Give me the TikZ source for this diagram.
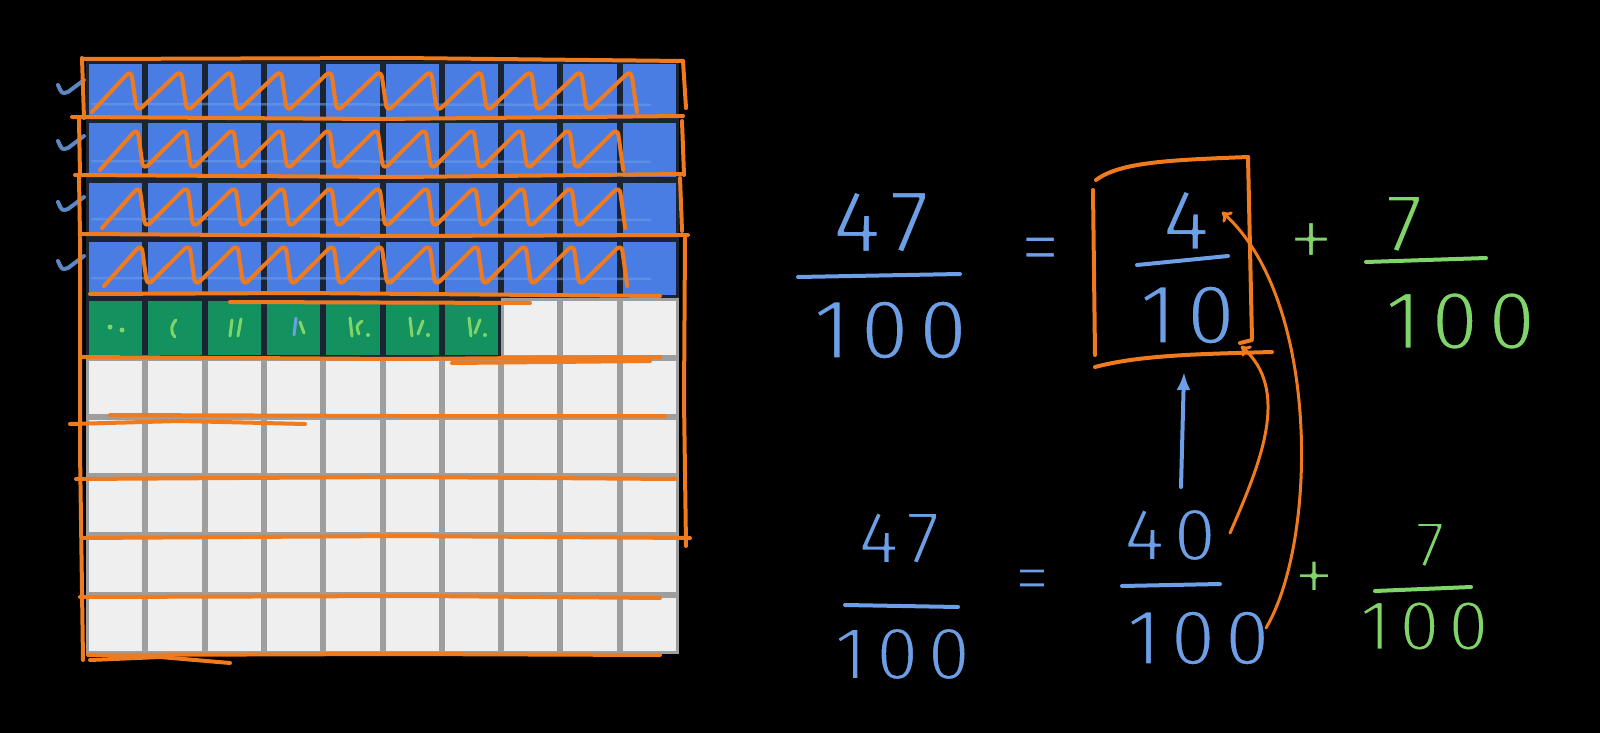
\documentclass[tikz,border=0pt]{standalone}
\usepackage{fontspec}
\newfontfamily\hw{Fira Sans}[LetterSpace=12]
\newcommand\thn[2][2.6]{\special{pdf:literal direct 2 Tr #1 w 1 j 0 0 0 RG}#2\special{pdf:literal direct 0 Tr}}
\usetikzlibrary{arrows.meta}
\definecolor{orng}{HTML}{F07A1E}
\definecolor{hblue}{HTML}{6C9FE6}
\definecolor{hgreen}{HTML}{7FD46A}
\definecolor{cblue}{HTML}{4A7DE4}
\definecolor{cgreen}{HTML}{13915E}
\definecolor{cwhite}{HTML}{EFEFEF}
\definecolor{lgray}{HTML}{9E9E9E}
\definecolor{dline}{HTML}{1B2433}
\tikzset{
  ostroke/.style={draw=orng, line width=4pt, line cap=round, line join=round},
  bstroke/.style={draw=hblue, line width=4pt, line cap=round, line join=round},
  gstroke/.style={draw=hgreen, line width=4pt, line cap=round, line join=round},
  num/.style={inner sep=0pt, font=\hw\fontsize{#1}{#1}\selectfont},
}
\begin{document}
\begin{tikzpicture}[x=1pt,y=-1pt]
\useasboundingbox (0,0) rectangle (1600,733);
\fill[black] (0,0) rectangle (1600,733);
% ---------- grid ----------
\def\c{59.3}
\fill[lgray] (86,61) rectangle (679,654);
\fill[dline] (86,61) rectangle (679,{61+4*\c});
\fill[dline] (86,{61+4*\c}) rectangle ({86+7*\c},{61+5*\c});
\foreach \j in {0,...,3}{\foreach \i in {0,...,9}{
  \fill[cblue] ({86+\i*\c+3},{61+\j*\c+3}) rectangle ({86+(\i+1)*\c-3},{61+(\j+1)*\c-3});}}
\foreach \i in {0,...,6}{
  \fill[cgreen] ({86+\i*\c+3},{61+4*\c+3}) rectangle ({86+(\i+1)*\c-3},{61+5*\c-3});}
\foreach \i in {7,...,9}{
  \fill[cwhite] ({86+\i*\c+3},{61+4*\c+3}) rectangle ({86+(\i+1)*\c-3},{61+5*\c-3});}
\foreach \j in {5,...,9}{\foreach \i in {0,...,9}{
  \fill[cwhite] ({86+\i*\c+3},{61+\j*\c+3}) rectangle ({86+(\i+1)*\c-3},{61+(\j+1)*\c-3});}}
% faint light-blue lines in blue rows
\foreach \y in {104,161,219,278}{
  \draw[hblue, opacity=0.55, line width=2.5pt, line cap=round] (92,\y) -- (650,{\y+1});}
% check marks
\foreach \y in {86,142,203,262}{
  \draw[bstroke, line width=4pt, opacity=0.85] (58,{\y-1}) .. controls (62,{\y+8}) .. (68,{\y+6}) -- (84,{\y-6});}
% green row marks
\begin{scope}[gstroke, line width=3pt]
\fill[hgreen] (110,327) circle (2.5);
\fill[hgreen] (122,330) circle (2.5);
\draw (176,320) .. controls (170,326) and (171,334) .. (175,337);
\draw (232,320) -- (230,336); \draw (241,319) -- (238,336);
\draw[hblue] (296,318) -- (294,335); \draw (300,322) -- (304,333);
\draw (350,318) -- (352,336); \draw (362,321) .. controls (356,326) .. (359,334); \fill[hgreen] (368,335) circle (2);
\draw (410,318) -- (412,336); \draw (423,321) -- (418,334); \fill[hgreen] (428,335) circle (2);
\draw (469,318) -- (471,336); \draw (480,320) -- (475,333); \fill[hgreen] (485,335) circle (2);
\end{scope}
% orange row boxes
\draw[ostroke] (82,59) -- (400,58) -- (683,61);
\draw[ostroke] (82,58) -- (84,118);
\draw[ostroke] (683,61) -- (686,108);
\draw[ostroke] (72,117) -- (380,119) -- (683,116);
\draw[ostroke] (79,119) -- (80,176);
\draw[ostroke] (682,121) -- (684,175);
\draw[ostroke] (75,175) -- (400,177) -- (683,174);
\draw[ostroke] (79,177) -- (80,236);
\draw[ostroke] (680,178) -- (682,231);
\draw[ostroke] (80,234) -- (400,236) -- (688,235);
\draw[ostroke] (80,238) -- (80,450) -- (83,660);
\draw[ostroke] (685,238) -- (684,400) -- (686,546);
% zigzags
\foreach \yt/\yb/\xs/\w in {70/112/92/50, 128/170/100/48, 186/228/102/48, 244/286/104/48}{
  \draw[ostroke, rounded corners=7pt] (\xs,\yb)
    \foreach \k in {0,...,10}{ -- ({\xs+\k*\w+0.78*\w},\yt) -- ({\xs+\k*\w+0.9*\w},\yb) };
}
% horizontal orange lines
\draw[ostroke] (90,294) -- (300,293) -- (660,296);
\draw[ostroke] (230,302) -- (530,303);
\draw[ostroke] (80,357) -- (400,359) -- (660,357);
\draw[ostroke] (452,363) -- (650,361);
\draw[ostroke] (110,415) -- (400,416) -- (665,416);
\draw[ostroke] (70,424) -- (180,421) -- (305,424);
\draw[ostroke] (76,479) -- (400,477) -- (676,479);
\draw[ostroke] (82,538) -- (400,536) -- (690,538);
\draw[ostroke] (80,597) -- (420,596) -- (660,598);
\draw[ostroke] (88,655) -- (400,654) -- (660,655);
\draw[ostroke] (90,660) -- (160,657) -- (230,663);
% ---------- top equation ----------
\node[num=90, text=hblue] (a1) at (881,222) {\thn{47}};
\draw[bstroke] (798,277) -- (960,274);
\node[num=86, text=hblue] (a2) at (890,330) {\thn{100}};
\node[num=80, text=hblue] (eq1) at (1040,255) {\thn{=}};
\node[num=88, text=hblue] (b1) at (1186,220) {\thn{4}};
\draw[bstroke] (1137,265) -- (1228,256);
\node[num=86, text=hblue] (b2) at (1187,315) {\thn{10}};
\node[num=96, text=hgreen] (p1) at (1311,246) {\thn[4.2]{+}};
\node[num=84, text=hgreen] (c1) at (1404,224) {\thn{7}};
\draw[gstroke] (1366,262) -- (1486,258);
\node[num=84, text=hgreen] (c2) at (1460,321) {\thn{100}};
% orange box
\draw[ostroke] (1093,190) -- (1095,355);
\draw[ostroke] (1096,180) .. controls (1120,162) and (1170,160) .. (1248,157);
\draw[ostroke] (1248,157) -- (1252,340) -- (1240,343);
\draw[ostroke] (1095,367) .. controls (1140,355) and (1200,354) .. (1272,352);
% ---------- bottom equation ----------
\node[num=76, text=hblue] (d1) at (899,538) {\thn{47}};
\draw[bstroke] (845,605) -- (958,607);
\node[num=76, text=hblue] (d2) at (902,654) {\thn{100}};
\node[num=72, text=hblue] (eq2) at (1032,585) {\thn{=}};
\node[num=76, text=hblue] (e1) at (1170,535) {\thn{40}};
\draw[bstroke] (1122,586) -- (1220,584);
\node[num=80, text=hblue] (e2) at (1198,638) {\thn{100}};
\node[num=86, text=hgreen] (p2) at (1314,582) {\thn[3.8]{+}};
\node[num=66, text=hgreen] (f1) at (1430,545) {\thn{7}};
\draw[gstroke] (1375,591) -- (1471,587);
\node[num=72, text=hgreen] (f2) at (1424,626) {\thn{100}};
% arrows
\coordinate (boxbot) at (1184,372);
\coordinate (fortytop) at (1181,487);
\draw[bstroke, -{Latex[length=18pt,width=14pt]}] (fortytop) -- (boxbot);
\coordinate (fortyr) at (1230,533);
\coordinate (tenr) at (1241,346);
\draw[draw=orng, line width=3pt, line cap=round, -{To[length=9pt,width=14pt]}]
  (fortyr) .. controls (1262,460) and (1290,390) .. (tenr);
\coordinate (hundr) at (1266,628);
\coordinate (fourr) at (1222,212);
\draw[draw=orng, line width=3pt, line cap=round, -{To[length=9pt,width=14pt]}]
  (hundr) .. controls (1318,540) and (1320,300) .. (fourr);
\end{tikzpicture}
\end{document}
